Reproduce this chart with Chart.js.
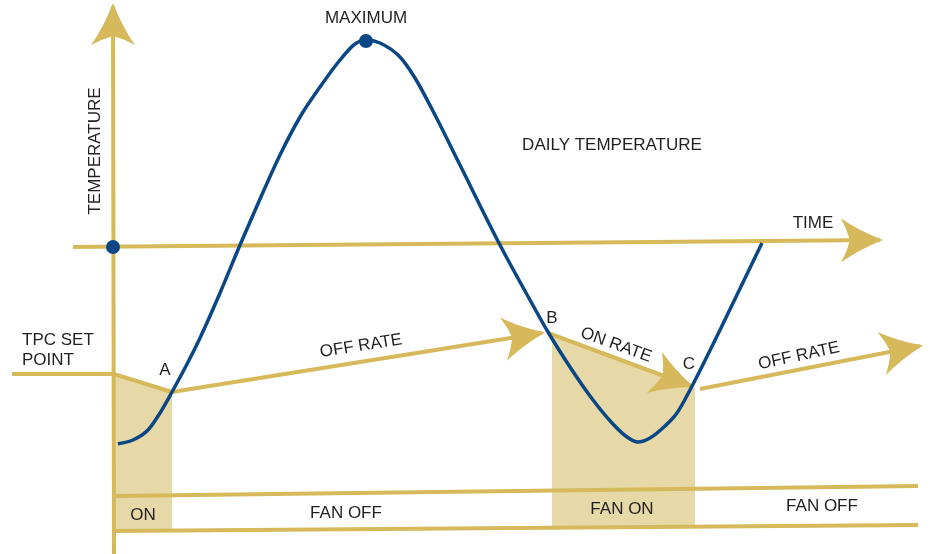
<!DOCTYPE html>
<html><head><meta charset="utf-8">
<script src="https://cdn.jsdelivr.net/npm/chart.js@4/dist/chart.umd.min.js"></script>
<style>html,body{margin:0;padding:0;background:#fff;overflow:hidden}</style>
</head><body>
<canvas id="c" width="930" height="554"></canvas>
<script>
// ---- data (diagram units: x = time position, y = temperature position, y grows downward) ----
const curveX = [118,133,148,160,172,186,200,220,240,260,280,300,320,340,355,366,380,400,415,435,460,500,530,548,570,590,612,627,638,650,665,677,690,720,762];
const curveY = [444,440,430,413,392,366,338,293,245,199,155,117, 87, 60, 44, 40, 43, 57, 78,115,165,245,300,332,367,396,423,437,442,438,426,413,390,330,243];

const markerX = [113,366];
const markerY = [247,41];

const tempAxisX = [114,113];   const tempAxisY = [554,6];
const timeAxisX = [73,880];    const timeAxisY = [247,240];
const setPointX = [12,114,172];const setPointY = [374,374,392];
const offRate1X = [172,542];   const offRate1Y = [392,333];
const onRateX   = [548,691];   const onRateY   = [333,386];
const offRate2X = [700,920];   const offRate2Y = [389,346];
const fanTopX   = [114,918];   const fanTopY   = [496,486];
const fanBotX   = [114,918];   const fanBotY   = [531,525];

const shade1X = [114,172];     const shade1TopY = [374,392]; const shade1BotY = [530,530];
const shade2X = [552,695];     const shade2TopY = [335,388]; const shade2BotY = [529,528];

const labelTexts = ["TEMPERATURE","MAXIMUM","DAILY TEMPERATURE","TIME","TPC SET","POINT","A","B","C","OFF RATE","ON RATE","OFF RATE","ON","FAN OFF","FAN ON","FAN OFF"];
const labelX     = [95,366,612,813,22,22,165,552,689,361,616,799,143,346,622,822];
const labelY     = [151,18,145,223,340,360,370,318,364,346,345,356,515,513,509,506];
const labelRot   = [-90,0,0,0,0,0,0,0,0,-9,20,-12,0,0,0,0];
const labelAlign = ["center","center","center","center","left","left","center","center","center","center","center","center","center","center","center","center"];

// ---- styles ----
const GOLD = "#D6B95A", SHADE = "#E7D8A8", BLUE = "#0A4784", TEXT = "#231F20";

const pts = (xs, ys) => xs.map((x, i) => ({x, y: ys[i]}));
const goldLine = (xs, ys, arrow) => ({
  data: pts(xs, ys), showLine: true, borderColor: GOLD, borderWidth: 4,
  pointRadius: 0, fill: false, order: 2, arrowHead: !!arrow, borderCapStyle: 'butt', tension: 0
});

const arrowPlugin = {
  id: 'arrowHeads',
  afterDatasetDraw(chart, args) {
    const ds = chart.data.datasets[args.index];
    if (!ds.arrowHead) return;
    const d = args.meta.data, n = d.length;
    const a = d[n - 2], b = d[n - 1];
    let ux = b.x - a.x, uy = b.y - a.y; const len = Math.hypot(ux, uy); ux /= len; uy /= len;
    const px = -uy, py = ux;
    const L = 42, W = 22, notch = 9;
    const tx = b.x + 3 * ux, ty = b.y + 3 * uy;
    const bx = tx - L * ux, by = ty - L * uy;
    const nx = tx - (L - notch) * ux, ny = ty - (L - notch) * uy;
    const ctx = chart.ctx;
    ctx.save();
    ctx.fillStyle = GOLD;
    ctx.beginPath();
    ctx.moveTo(tx, ty);
    ctx.quadraticCurveTo(tx - 0.6 * L * ux + 0.45 * W * px, ty - 0.6 * L * uy + 0.45 * W * py, bx + W * px, by + W * py);
    ctx.quadraticCurveTo(nx - 3 * ux + 0.5 * W * px, ny - 3 * uy + 0.5 * W * py, nx, ny);
    ctx.quadraticCurveTo(nx - 3 * ux - 0.5 * W * px, ny - 3 * uy - 0.5 * W * py, bx - W * px, by - W * py);
    ctx.quadraticCurveTo(tx - 0.6 * L * ux - 0.45 * W * px, ty - 0.6 * L * uy - 0.45 * W * py, tx, ty);
    ctx.closePath();
    ctx.fill();
    ctx.restore();
  }
};

const labelPlugin = {
  id: 'labels',
  afterDraw(chart) {
    const ctx = chart.ctx, xs = chart.scales.x, ys = chart.scales.y;
    ctx.save();
    ctx.fillStyle = TEXT;
    ctx.font = '17px "Liberation Sans", Arial, sans-serif';
    ctx.textBaseline = 'middle';
    labelTexts.forEach((t, i) => {
      ctx.save();
      ctx.translate(xs.getPixelForValue(labelX[i]), ys.getPixelForValue(labelY[i]));
      ctx.rotate(labelRot[i] * Math.PI / 180);
      ctx.textAlign = labelAlign[i];
      ctx.fillText(t, 0, 0);
      ctx.restore();
    });
    ctx.restore();
  }
};

new Chart(document.getElementById('c'), {
  type: 'scatter',
  data: {
    datasets: [
      { data: pts(markerX, markerY), pointRadius: 7, pointBackgroundColor: BLUE, pointBorderWidth: 0, showLine: false, order: 0 },
      { data: pts(curveX, curveY), showLine: true, borderColor: BLUE, borderWidth: 3.5, pointRadius: 0, cubicInterpolationMode: 'monotone', fill: false, order: 1 },
      goldLine(tempAxisX, tempAxisY, true),
      goldLine(timeAxisX, timeAxisY, true),
      goldLine(setPointX, setPointY, false),
      goldLine(offRate1X, offRate1Y, true),
      goldLine(onRateX, onRateY, true),
      goldLine(offRate2X, offRate2Y, true),
      goldLine(fanTopX, fanTopY, false),
      goldLine(fanBotX, fanBotY, false),
      { data: pts(shade1X, shade1TopY), showLine: true, borderWidth: 0, pointRadius: 0, backgroundColor: SHADE, fill: '+1', order: 3 },
      { data: pts(shade1X, shade1BotY), showLine: true, borderWidth: 0, pointRadius: 0, fill: false, order: 3 },
      { data: pts(shade2X, shade2TopY), showLine: true, borderWidth: 0, pointRadius: 0, backgroundColor: SHADE, fill: '+1', order: 3 },
      { data: pts(shade2X, shade2BotY), showLine: true, borderWidth: 0, pointRadius: 0, fill: false, order: 3 }
    ]
  },
  options: {
    responsive: false, animation: false, devicePixelRatio: 1,
    layout: { padding: 0, autoPadding: false },
    plugins: { legend: { display: false }, tooltip: { enabled: false } },
    scales: {
      x: { type: 'linear', min: 0, max: 930, display: false },
      y: { type: 'linear', min: 0, max: 554, reverse: true, display: false }
    },
    clip: false
  },
  plugins: [arrowPlugin, labelPlugin]
});
</script>
</body></html>
